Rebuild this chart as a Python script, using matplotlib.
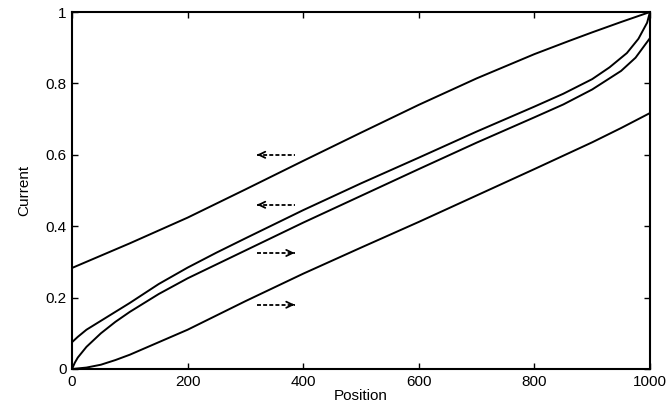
import matplotlib
matplotlib.use("Agg")
import matplotlib.pyplot as plt
import numpy as np

plt.rcParams['font.family'] = ['Liberation Sans', 'DejaVu Sans']

# curves (position -> current)
top_x = [0, 100, 200, 300, 400, 500, 600, 700, 800, 860, 900, 950, 1000]
top_y = [0.283, 0.352, 0.424, 0.503, 0.583, 0.662, 0.740, 0.814, 0.882, 0.919, 0.943, 0.972, 1.0]

upper_mid_x = [0, 10, 25, 50, 75, 100, 150, 200, 250, 300, 400, 500, 600, 700, 800, 850, 900,
               930, 960, 980, 995, 1000]
upper_mid_y = [0.075, 0.09, 0.11, 0.135, 0.16, 0.185, 0.238, 0.284, 0.326, 0.366, 0.445, 0.52,
               0.592, 0.665, 0.735, 0.771, 0.812, 0.845, 0.885, 0.925, 0.97, 1.0]

lower_mid_x = [0, 5, 10, 25, 50, 75, 100, 150, 200, 250, 300, 400, 500, 600, 700, 800, 850,
               900, 950, 975, 1000]
lower_mid_y = [0.0, 0.018, 0.032, 0.062, 0.10, 0.132, 0.16, 0.21, 0.254, 0.293, 0.332, 0.41,
               0.485, 0.56, 0.634, 0.705, 0.741, 0.783, 0.835, 0.872, 0.927]

bottom_x = [0, 25, 50, 75, 100, 150, 200, 250, 300, 400, 500, 600, 700, 800, 900, 950, 1000]
bottom_y = [0.0, 0.004, 0.012, 0.025, 0.04, 0.075, 0.11, 0.15, 0.19, 0.267, 0.34, 0.412, 0.486,
            0.56, 0.635, 0.675, 0.717]

# dashed arrows: height, direction (-1 = points left)
arrow_y = [0.60, 0.46, 0.325, 0.18]
arrow_dir = [-1, -1, 1, 1]
arrow_x0, arrow_x1 = 320, 385

xticks = [0, 200, 400, 600, 800, 1000]
yticks = [0, 0.2, 0.4, 0.6, 0.8, 1]
ytick_labels = ['0', '0.2', '0.4', '0.6', '0.8', '1']

fig = plt.figure(figsize=(6.69, 4.12), dpi=100)
ax = fig.add_axes((72 / 669, 43 / 412, 578 / 669, 357 / 412))

for xs, ys in [(top_x, top_y), (upper_mid_x, upper_mid_y),
               (lower_mid_x, lower_mid_y), (bottom_x, bottom_y)]:
    ax.plot(xs, ys, color='black', lw=1.4, solid_capstyle='round', solid_joinstyle='round')

for y, d in zip(arrow_y, arrow_dir):
    ax.plot([arrow_x0, arrow_x1], [y, y], color='black', lw=1.3, ls=(0, (2.2, 1.2)))
    tip = arrow_x1 if d > 0 else arrow_x0
    ax.annotate('', xy=(tip, y), xytext=(tip - d * 6, y),
                arrowprops=dict(arrowstyle='->,head_length=0.45,head_width=0.22',
                                lw=1.3, color='black', shrinkA=0, shrinkB=0))

ax.set_xlim(0, 1000)
ax.set_ylim(0, 1)
ax.set_xticks(xticks)
ax.set_xticklabels([str(t) for t in xticks])
ax.set_yticks(yticks)
ax.set_yticklabels(ytick_labels)
ax.tick_params(direction='in', length=4, width=1, top=True, right=True,
               labelsize=11, pad=4)
for sp in ax.spines.values():
    sp.set_linewidth(1.5)

ax.set_xlabel('Position', fontsize=11, labelpad=0)
ax.set_ylabel('Current', fontsize=11, labelpad=10)

fig.savefig('out.png', dpi=100)
